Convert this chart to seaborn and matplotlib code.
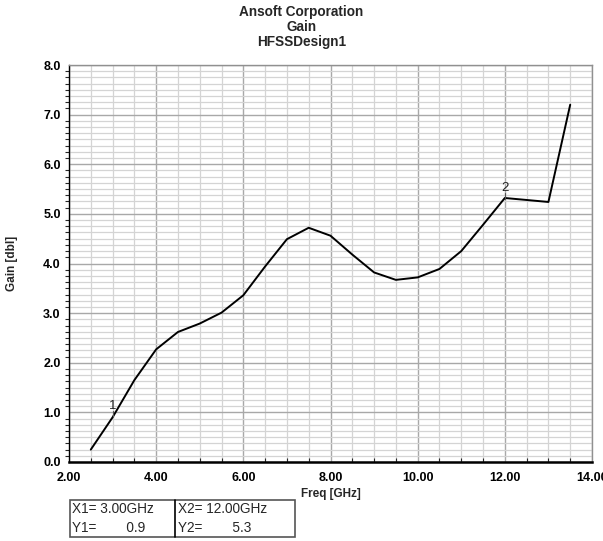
import matplotlib
matplotlib.use("Agg")
import matplotlib.pyplot as plt
from matplotlib.ticker import MultipleLocator, FormatStrFormatter
from matplotlib.patches import Rectangle
import seaborn as sns
import pandas as pd

freq_ghz = [2.5, 3.0, 3.5, 4.0, 4.5, 5.0, 5.5, 6.0, 6.5, 7.0, 7.5, 8.0, 8.5,
            9.0, 9.5, 10.0, 10.5, 11.0, 11.5, 12.0, 12.5, 13.0, 13.5]
gain_dbi = [0.25, 0.90, 1.65, 2.27, 2.62, 2.79, 3.01, 3.36, 3.94, 4.49, 4.72, 4.56, 4.18,
            3.82, 3.67, 3.72, 3.89, 4.25, 4.78, 5.32, 5.28, 5.24, 7.20]
marker_names = ["1", "2"]
marker_x = [3.0, 12.0]
marker_y = [0.9, 5.3]
title_lines = ["Ansoft Corporation", "Gain", "HFSSDesign1"]

df = pd.DataFrame({"Freq": freq_ghz, "Gain": gain_dbi})

sns.set_style("white")
plt.rcParams["font.family"] = ["Liberation Sans", "DejaVu Sans"]

fig = plt.figure(figsize=(6.03, 5.41), dpi=100)
ax = fig.add_axes([69/603, 1-462/541, (592-69)/603, (462-65)/541])

ax.set_xlim(2, 14)
ax.set_ylim(0, 8)
ax.xaxis.set_major_locator(MultipleLocator(2))
ax.xaxis.set_minor_locator(MultipleLocator(0.5))
ax.yaxis.set_major_locator(MultipleLocator(1))
ax.yaxis.set_minor_locator(MultipleLocator(0.125))
ax.xaxis.set_major_formatter(FormatStrFormatter("%.2f"))
ax.yaxis.set_major_formatter(FormatStrFormatter("%.1f"))

ax.grid(True, which="major", color="#a8a8a8", linewidth=1.0)
ax.grid(True, which="minor", color="#d4d4d4", linewidth=0.9)
ax.set_axisbelow(True)

sns.lineplot(data=df, x="Freq", y="Gain", ax=ax, color="black", linewidth=1.4,
             estimator=None, sort=False)

for n, mx, my in zip(marker_names, marker_x, marker_y):
    ax.annotate(n, xy=(mx, my), xytext=(0, 3.5), textcoords="offset points",
                ha="center", va="bottom", fontsize=9.5, color="#222222")
    ax.plot([mx, mx], [my, my + 0.12], color="#555555", linewidth=0.8)

for s in ["top", "right"]:
    ax.spines[s].set_color("#909090")
    ax.spines[s].set_linewidth(1.0)
for s in ["left", "bottom"]:
    ax.spines[s].set_color("black")
ax.spines["left"].set_linewidth(1.0)
ax.spines["bottom"].set_linewidth(1.8)

ax.tick_params(axis="both", which="major", direction="out", length=5, width=0.8,
               labelsize=9, colors="black")
ax.tick_params(axis="y", which="minor", direction="out", length=3, width=0.8, left=True)
ax.tick_params(axis="x", which="minor", direction="in", length=3, width=0.8, bottom=True)
ax.tick_params(axis="y", which="major", pad=1)
ax.tick_params(axis="x", which="major", pad=2)
for lab in ax.get_xticklabels() + ax.get_yticklabels():
    lab.set_fontweight("bold")

ax.set_xlabel("Freq [GHz]", fontsize=8.5, fontweight="bold", labelpad=3)
ax.set_ylabel("Gain [dbl]", fontsize=8.5, fontweight="bold", labelpad=18)

for i, line in enumerate(title_lines):
    fig.text(0.5, 1 - (12 + 15*i)/541, line, ha="center", va="center",
             fontsize=9.8, fontweight="bold")

# marker table
tx0, ty0 = 70/603, 1 - 537/541
tw, th = (295-70)/603, (537-500)/541
fig.patches.append(Rectangle((tx0, ty0), tw, th, transform=fig.transFigure,
                             fill=False, edgecolor="#555555", linewidth=1.2))
split = (175-70)/603
fig.add_artist(plt.Line2D([tx0+split, tx0+split], [ty0, ty0+th],
                          transform=fig.transFigure, color="black", linewidth=1.2))
rows = [(f"X1= {marker_x[0]:.2f}GHz", f"X2= {marker_x[1]:.2f}GHz"),
        (f"Y1=        {marker_y[0]:.1f}", f"Y2=        {marker_y[1]:.1f}")]
for r, (a, b) in enumerate(rows):
    yy = 1 - (509 + 19*r)/541
    fig.text(tx0 + 2/603, yy, a, ha="left", va="center", fontsize=9.8)
    fig.text(tx0 + split + 3/603, yy, b, ha="left", va="center", fontsize=9.8)

fig.savefig("out.png", dpi=100)
